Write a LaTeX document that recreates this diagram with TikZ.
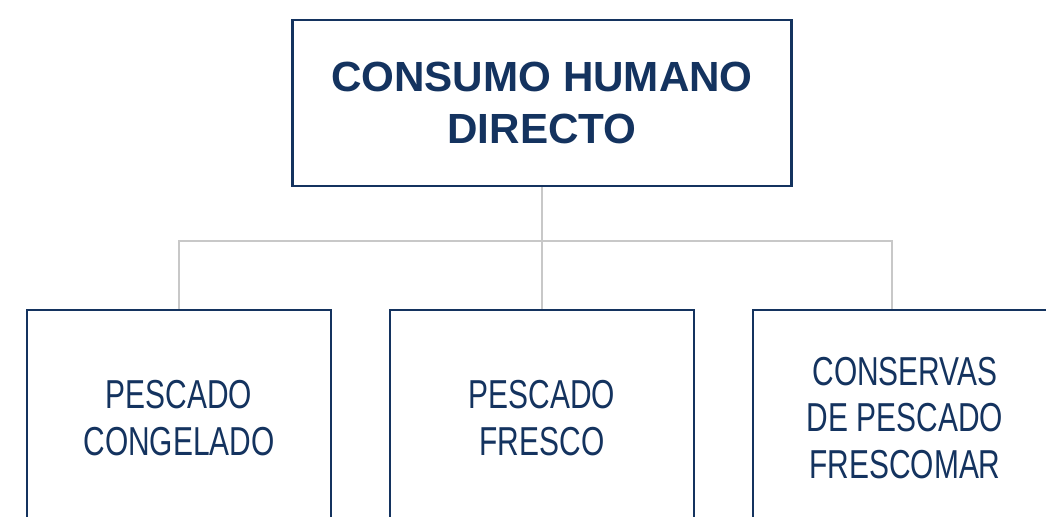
\documentclass[tikz,border=0pt]{standalone}
\usepackage{fontspec}
\setmainfont{Liberation Sans}
\newfontfamily\narrowfont[FakeStretch=0.74]{Liberation Sans}
\usetikzlibrary{positioning, backgrounds}
\definecolor{mainNavy}{HTML}{14335F}
\definecolor{lineGray}{HTML}{C8C8C8}

\begin{document}
\begin{tikzpicture}[
    box/.style={draw=mainNavy, fill=white, line width=1.5pt, text=mainNavy, align=center, inner sep=0pt},
    sub/.style={box, minimum width=6.08cm, minimum height=4.32cm, font=\narrowfont\fontsize{23}{26.6}\selectfont},
    link/.style={draw=lineGray, line width=1.1pt}]
    \useasboundingbox (0,0) rectangle (20.92,-10.34);
    \clip (0,0) rectangle (20.92,-10.34);

    % head
    \node[box, minimum width=9.98cm, minimum height=3.32cm,
          font=\fontsize{24}{30}\selectfont\bfseries] (top) at (10.84,-2.06) {CONSUMO HUMANO\\DIRECTO};

    % products
    \node[sub] (pc) at (3.58,-8.36) {PESCADO\\CONGELADO};
    \node[sub] (pf) at (10.84,-8.36) {PESCADO\\FRESCO};
    \node[sub] (cp) at (18.10,-8.36) {CONSERVAS\\DE PESCADO\\FRESCOMAR};

    \coordinate[below=1.08cm of top] (bus);
    \coordinate (cptop) at (17.84,-6.20);

    \begin{scope}[on background layer]
        \draw[link] (top.south) -- (bus);
        \draw[link] (pc.north) |- (bus) -| (cptop);
        \draw[link] (bus) -- (pf.north);
    \end{scope}
\end{tikzpicture}
\end{document}
